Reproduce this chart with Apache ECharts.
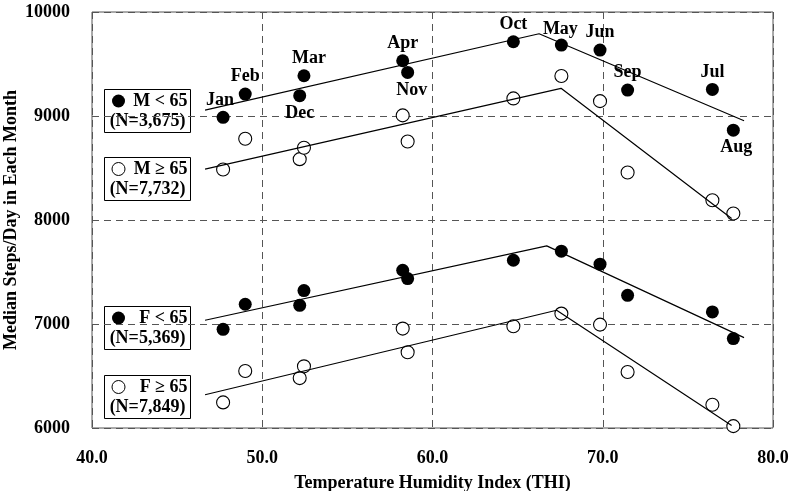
<!DOCTYPE html>
<html>
<head>
<meta charset="utf-8">
<script src="https://cdn.jsdelivr.net/npm/echarts@6/dist/echarts.min.js"></script>
<style>html,body{margin:0;padding:0;background:#fff}#c{width:791px;height:491px}</style>
</head>
<body>
<div id="c"></div>
<script>
// Month order and THI value of each month
var months = ['Jan','Feb','Dec','Mar','Apr','Nov','Oct','May','Jun','Sep','Jul','Aug'];
var thi    = [47.7, 49.0, 52.2, 52.45, 58.25, 58.54, 64.75, 67.57, 69.84, 71.46, 76.44, 77.67];

// Median steps/day per month, by group
var mUnder65 = [8987, 9211, 9195, 9387, 9531, 9419, 9714, 9682, 9634, 9249, 9256, 8864];
var mOver65  = [8486, 8781, 8585, 8694, 9006, 8755, 9169, 9384, 9143, 8457, 8190, 8063];
var fUnder65 = [6949, 7190, 7180, 7321, 7517, 7437, 7613, 7700, 7575, 7276, 7116, 6860];
var fOver65  = [6246, 6548, 6480, 6593, 6956, 6728, 6978, 7100, 6994, 6538, 6224, 6018];

// Piecewise-linear fitted trends: [start, breakpoint, end]
var trendMUnderX = [46.64, 66.26, 78.30], trendMUnderY = [9057, 9791, 8954];
var trendMOverX  = [46.64, 67.55, 77.57], trendMOverY  = [8489, 9266, 8014];
var trendFUnderX = [46.64, 66.71, 78.30], trendFUnderY = [7036, 7751, 6869];
var trendFOverX  = [46.64, 67.29, 77.57], trendFOverY  = [6320, 7132, 6025];

// Axis ticks
var xTicks = [40, 50, 60, 70, 80];
var yTicks = [6000, 7000, 8000, 9000, 10000];

// Legend texts
var groupNames = ['M < 65', 'M \u2265 65', 'F < 65', 'F \u2265 65'];
var groupNs = ['(N=3,675)', '(N=7,732)', '(N=5,369)', '(N=7,849)'];

var FONT = '"Liberation Serif", "Times New Roman", serif';

function zip(xs, ys) { return xs.map(function (x, i) { return [x, ys[i]]; }); }

var labelPos = {Jan:'top',Feb:'top',Dec:'bottom',Mar:'top',Apr:'top',Nov:'bottom',Oct:'top',May:'top',Jun:'top',Sep:'top',Jul:'top',Aug:'bottom'};
var labelOff = {Mar:[5,0],Nov:[4,0],Aug:[3,0],Jan:[-3,0],May:[-1,2]};

var mUnderData = thi.map(function (x, i) {
  var m = months[i];
  return {
    value: [x, mUnder65[i]],
    name: m,
    label: {position: labelPos[m], offset: labelOff[m] || [0,0]}
  };
});

function scatter(name, ys, filled) {
  return {
    type: 'scatter', name: name, data: zip(thi, ys), symbolSize: 13, z: 3,
    itemStyle: filled ? {color: '#000', opacity: 1} : {color: '#fff', borderColor: '#000', borderWidth: 1.1, opacity: 1}
  };
}
function trend(xs, ys) {
  return {
    type: 'line', data: zip(xs, ys), showSymbol: false, symbol: 'none', z: 4,
    lineStyle: {color: '#000', width: 1.2}, silent: true
  };
}

var series = [
  {
    type: 'scatter', name: groupNames[0], data: mUnderData, symbolSize: 13, z: 3,
    itemStyle: {color: '#000', opacity: 1},
    label: {show: true, formatter: '{b}', distance: 2, color: '#000', opacity: 1, fontFamily: FONT, fontWeight: 'bold', fontSize: 18}
  },
  scatter(groupNames[1], mOver65, false),
  scatter(groupNames[2], fUnder65, true),
  scatter(groupNames[3], fOver65, false),
  trend(trendMUnderX, trendMUnderY),
  trend(trendMOverX, trendMOverY),
  trend(trendFUnderX, trendFUnderY),
  trend(trendFOverX, trendFOverY)
];

// legend boxes (graphic)
var boxTops = [89, 157, 306, 375];
var graphic = [];
boxTops.forEach(function (top, i) {
  var filled = (i % 2 === 0);
  graphic.push({
    type: 'group', left: 104, top: top, z: 10,
    children: [
      {type: 'rect', shape: {x: 0, y: 0, width: 86, height: 43}, style: {fill: '#fff', stroke: '#000', lineWidth: 1}},
      {type: 'circle', shape: {cx: 14, cy: 11.5, r: 6.5}, style: filled ? {fill: '#000'} : {fill: '#fff', stroke: '#000', lineWidth: 1}},
      {type: 'text', x: 83, y: 11.5, style: {text: groupNames[i], align: 'right', verticalAlign: 'middle', font: 'bold 18px ' + FONT, fill: '#000'}},
      {type: 'text', x: 43, y: 31.5, style: {text: groupNs[i], align: 'center', verticalAlign: 'middle', font: 'bold 18px ' + FONT, fill: '#000'}}
    ]
  });
});

var chart = echarts.init(document.getElementById('c'), null, {renderer: 'canvas'});
chart.setOption({
  animation: false,
  backgroundColor: '#fff',
  grid: {left: 92, right: 18, top: 12, bottom: 63, outerBoundsMode: 'none', containLabel: false,
         show: true, borderColor: '#555', borderWidth: 1, backgroundColor: 'transparent'},
  xAxis: {
    type: 'value', min: xTicks[0], max: xTicks[xTicks.length - 1], interval: 10,
    name: 'Temperature Humidity Index (THI)', nameLocation: 'middle', nameGap: 46, nameMoveOverlap: false,
    nameTextStyle: {fontFamily: FONT, fontWeight: 'bold', fontSize: 18, color: '#000'},
    axisLine: {show: false}, axisTick: {show: false},
    axisLabel: {margin: 21, fontFamily: FONT, fontWeight: 'bold', fontSize: 18, color: '#000', formatter: function (v) { return v.toFixed(1); }},
    splitLine: {show: true, lineStyle: {color: '#555', type: [7, 5], width: 1}}
  },
  yAxis: {
    type: 'value', min: yTicks[0], max: yTicks[yTicks.length - 1], interval: 1000,
    name: 'Median Steps/Day in Each Month', nameLocation: 'middle', nameGap: 72, nameMoveOverlap: false,
    nameTextStyle: {fontFamily: FONT, fontWeight: 'bold', fontSize: 18, color: '#000'},
    axisLine: {show: false}, axisTick: {show: false},
    axisLabel: {margin: 22, fontFamily: FONT, fontWeight: 'bold', fontSize: 18, color: '#000', formatter: function (v) { return String(v); }},
    splitLine: {show: true, lineStyle: {color: '#555', type: [7, 5], width: 1}}
  },
  series: series,
  graphic: graphic
});
</script>
</body>
</html>
